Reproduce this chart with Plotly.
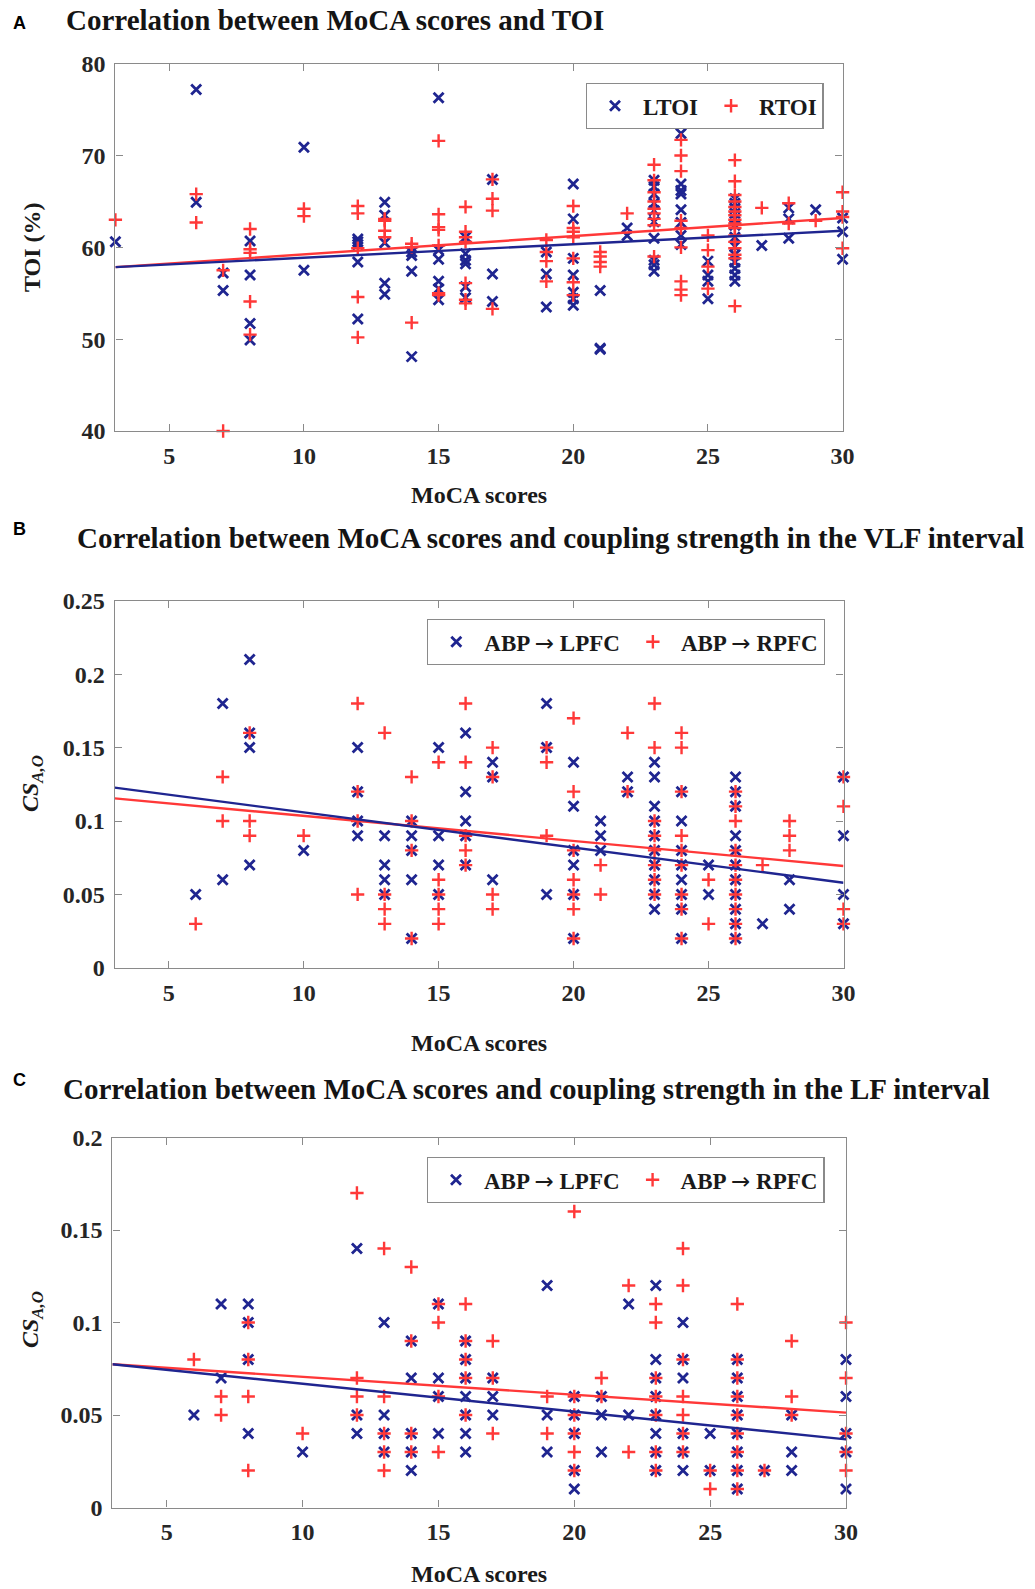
import plotly.graph_objects as go

W, H = 1035, 1589

# ---------------- data ----------------
# x positions of regression lines
line_x = [3, 30]

# Panel A: TOI (%) by MoCA score
A_ltoi = {
    3: [60.6], 6: [77.2, 64.9], 7: [57.2, 55.3], 8: [60.7, 57.0, 51.7, 49.9],
    10: [70.9, 57.5], 12: [60.9, 60.6, 60.3, 58.4, 52.2], 13: [64.9, 63.5, 60.5, 56.1, 54.9],
    14: [59.5, 59.1, 57.4, 48.1], 15: [76.3, 59.7, 58.7, 56.3, 55.5, 54.3],
    16: [61.1, 59.3, 58.6, 58.2, 55.7, 54.5], 17: [67.4, 57.1, 54.1], 19: [59.5, 57.1, 53.5],
    20: [66.9, 63.1, 58.8, 57.0, 55.1, 54.4, 53.7], 21: [55.3, 48.9, 49.0], 22: [62.1, 61.3],
    23: [67.3, 66.6, 65.8, 64.8, 64.0, 62.8, 61.0, 58.6, 58.1, 57.4],
    24: [72.4, 66.9, 66.2, 65.8, 64.1, 62.7, 61.3, 60.3], 25: [58.5, 57.0, 56.3, 54.4],
    26: [65.3, 64.8, 64.2, 63.7, 63.1, 62.4, 61.1, 60.1, 59.2, 58.4, 57.7, 57.0, 56.3],
    27: [60.2], 28: [64.3, 63.1, 61.0], 29: [64.1], 30: [63.2, 61.7, 58.7],
}
A_rtoi = {
    3: [63.0], 6: [65.8, 62.7], 7: [57.5, 40.0], 8: [62.0, 59.8, 59.4, 54.1, 50.5],
    10: [64.2, 63.4], 12: [64.5, 63.7, 59.9, 54.6, 50.2], 13: [63.1, 62.9, 61.8, 61.1],
    14: [60.4, 60.0, 51.8], 15: [71.6, 63.6, 62.2, 61.9, 60.2, 55.0, 54.8],
    16: [64.4, 61.7, 61.1, 60.6, 56.1, 54.3, 53.9], 17: [67.4, 65.3, 64.0, 53.3],
    19: [60.8, 59.5, 58.5, 56.3], 20: [64.5, 62.1, 61.7, 61.1, 58.8, 56.2, 54.8],
    21: [59.5, 59.0, 58.4, 57.9], 22: [63.7],
    23: [69.0, 67.3, 66.0, 65.0, 64.2, 63.7, 63.1, 62.4, 59.0],
    24: [71.7, 70.0, 68.3, 62.9, 62.1, 60.0, 56.3, 55.4, 54.8], 25: [61.3, 59.7, 57.9, 55.5],
    26: [69.5, 67.2, 65.7, 65.0, 64.4, 63.9, 63.5, 63.0, 62.6, 62.1, 61.3, 60.6, 59.9, 59.2, 58.8, 53.6],
    27: [64.3], 28: [64.8, 62.6], 29: [62.9], 30: [66.0, 63.9, 63.3, 59.9],
}
A_fit_l = [57.85, 61.8]
A_fit_r = [57.85, 63.2]

# Panel B: coupling strength, VLF interval
B_lpfc = {
    6: [0.05], 7: [0.18, 0.06], 8: [0.21, 0.16, 0.15, 0.07], 10: [0.08],
    12: [0.15, 0.12, 0.10, 0.09], 13: [0.09, 0.07, 0.06, 0.05], 14: [0.10, 0.09, 0.08, 0.06, 0.02],
    15: [0.15, 0.09, 0.07, 0.05], 16: [0.16, 0.12, 0.10, 0.09, 0.07], 17: [0.14, 0.13, 0.06],
    19: [0.18, 0.15, 0.05], 20: [0.14, 0.11, 0.08, 0.07, 0.05, 0.02], 21: [0.10, 0.09, 0.08],
    22: [0.13, 0.12], 23: [0.14, 0.13, 0.11, 0.10, 0.09, 0.08, 0.07, 0.06, 0.05, 0.04],
    24: [0.12, 0.10, 0.08, 0.07, 0.06, 0.05, 0.04, 0.02], 25: [0.07, 0.05],
    26: [0.13, 0.12, 0.11, 0.09, 0.08, 0.07, 0.06, 0.05, 0.04, 0.03, 0.02],
    27: [0.03], 28: [0.06, 0.04], 30: [0.13, 0.09, 0.05, 0.03],
}
B_rpfc = {
    6: [0.03], 7: [0.13, 0.10], 8: [0.16, 0.10, 0.09], 10: [0.09],
    12: [0.18, 0.12, 0.10, 0.05], 13: [0.16, 0.05, 0.04, 0.03], 14: [0.13, 0.10, 0.08, 0.02],
    15: [0.14, 0.06, 0.05, 0.04, 0.03], 16: [0.18, 0.14, 0.09, 0.08, 0.07], 17: [0.15, 0.13, 0.05, 0.04],
    19: [0.15, 0.14, 0.09], 20: [0.17, 0.12, 0.08, 0.06, 0.05, 0.04, 0.02], 21: [0.07, 0.05],
    22: [0.16, 0.12], 23: [0.18, 0.15, 0.10, 0.09, 0.08, 0.07, 0.06, 0.05],
    24: [0.16, 0.15, 0.12, 0.09, 0.08, 0.07, 0.05, 0.04, 0.02], 25: [0.06, 0.03],
    26: [0.12, 0.11, 0.10, 0.08, 0.07, 0.06, 0.05, 0.04, 0.03, 0.02],
    27: [0.07], 28: [0.10, 0.09, 0.08], 30: [0.13, 0.11, 0.04, 0.03],
}
B_fit_l = [0.1227, 0.0580]
B_fit_r = [0.1154, 0.0694]

# Panel C: coupling strength, LF interval
C_lpfc = {
    6: [0.05], 7: [0.11, 0.07], 8: [0.11, 0.10, 0.08, 0.04], 10: [0.03],
    12: [0.14, 0.05, 0.04], 13: [0.10, 0.05, 0.04, 0.03], 14: [0.09, 0.07, 0.04, 0.03, 0.02],
    15: [0.11, 0.07, 0.06, 0.04], 16: [0.09, 0.08, 0.07, 0.06, 0.05, 0.04, 0.03],
    17: [0.07, 0.06, 0.05], 19: [0.12, 0.05, 0.03], 20: [0.06, 0.05, 0.04, 0.02, 0.01],
    21: [0.06, 0.05, 0.03], 22: [0.11, 0.05], 23: [0.12, 0.08, 0.07, 0.06, 0.05, 0.04, 0.03, 0.02],
    24: [0.10, 0.08, 0.07, 0.04, 0.03, 0.02], 25: [0.04, 0.02],
    26: [0.08, 0.07, 0.06, 0.05, 0.04, 0.03, 0.02, 0.01], 27: [0.02], 28: [0.05, 0.03, 0.02],
    30: [0.08, 0.06, 0.04, 0.03, 0.01],
}
C_rpfc = {
    6: [0.08], 7: [0.06, 0.05], 8: [0.10, 0.08, 0.06, 0.02], 10: [0.04],
    12: [0.17, 0.07, 0.06, 0.05], 13: [0.14, 0.06, 0.04, 0.03, 0.02], 14: [0.13, 0.09, 0.04, 0.03],
    15: [0.11, 0.10, 0.06, 0.03], 16: [0.11, 0.09, 0.08, 0.07, 0.05], 17: [0.09, 0.07, 0.04],
    19: [0.06, 0.04], 20: [0.16, 0.06, 0.05, 0.04, 0.03, 0.02], 21: [0.07, 0.06],
    22: [0.12, 0.03], 23: [0.11, 0.10, 0.07, 0.06, 0.05, 0.03, 0.02],
    24: [0.14, 0.12, 0.08, 0.06, 0.05, 0.04, 0.03], 25: [0.02, 0.01],
    26: [0.11, 0.08, 0.07, 0.06, 0.05, 0.04, 0.03, 0.02, 0.01], 27: [0.02], 28: [0.09, 0.06, 0.05],
    30: [0.10, 0.07, 0.04, 0.03, 0.02],
}
C_fit_l = [0.0774, 0.0368]
C_fit_r = [0.0774, 0.0513]

x_ticks = [5, 10, 15, 20, 25, 30]
A_yticks = [40, 50, 60, 70, 80]
B_yticks = [0, 0.05, 0.1, 0.15, 0.2, 0.25]
B_yticklabels = ["0", "0.05", "0.1", "0.15", "0.2", "0.25"]
C_yticks = [0, 0.05, 0.1, 0.15, 0.2]
C_yticklabels = ["0", "0.05", "0.1", "0.15", "0.2"]

titles = [
    "Correlation between MoCA scores and TOI",
    "Correlation between MoCA scores and coupling strength in the VLF interval",
    "Correlation between MoCA scores and coupling strength in the LF interval",
]
panel_letters = ["A", "B", "C"]
ARROW = '<span style="font-family:\'DejaVu Sans\';font-weight:normal">\u2192</span>'
legend_names = [
    ("LTOI", "RTOI"),
    ("ABP " + ARROW + " LPFC", "ABP " + ARROW + " RPFC"),
    ("ABP " + ARROW + " LPFC", "ABP " + ARROW + " RPFC"),
]
y_titles = ["TOI (%)", "<i>CS<sub>A,O</sub></i>", "<i>CS<sub>A,O</sub></i>"]

# ---------------- styling ----------------
BLUE = "#1f2590"
RED = "#ff3838"
AXC = "#8a8a8a"
SERIF = "Liberation Serif"
SANS = "Liberation Sans"


def expand(d):
    xs, ys = [], []
    for k, vs in d.items():
        for v in vs:
            xs.append(k)
            ys.append(v)
    return xs, ys


def px_x(p):
    return p / W


def px_y(p):
    return 1 - p / H


panels = [
    dict(blue=A_ltoi, red=A_rtoi, fl=A_fit_l, fr=A_fit_r, xpix=(115.4, 842.6), ypix=(63.7, 431.0),
         yr=[40, 80], yt=A_yticks, ytl=[str(v) for v in A_yticks],
         title_x=64, title_y=20, letter_y=23, xt_y=495, yt_y=247,
         leg=(585.7, 83)),
    dict(blue=B_lpfc, red=B_rpfc, fl=B_fit_l, fr=B_fit_r, xpix=(114.7, 843.5), ypix=(600.7, 967.9),
         yr=[0, 0.25], yt=B_yticks, ytl=B_yticklabels,
         title_x=75, title_y=538, letter_y=529.5, xt_y=1043, yt_y=784,
         leg=(427, 619)),
    dict(blue=C_lpfc, red=C_rpfc, fl=C_fit_l, fr=C_fit_r, xpix=(112.4, 846.0), ypix=(1137.5, 1507.5),
         yr=[0, 0.2], yt=C_yticks, ytl=C_yticklabels,
         title_x=61, title_y=1089, letter_y=1079.5, xt_y=1574, yt_y=1320,
         leg=(426.7, 1157)),
]

fig = go.Figure()
annotations = []
layout = {}

for i, p in enumerate(panels):
    n = "" if i == 0 else str(i + 1)
    xa, ya = "x" + n, "y" + n
    leg = "legend" + n
    bx, by = expand(p["blue"])
    rx, ry = expand(p["red"])
    fig.add_trace(go.Scatter(x=bx, y=by, mode="markers", name=legend_names[i][0],
                             marker=dict(symbol="x-thin", size=10, color=BLUE,
                                         line=dict(color=BLUE, width=2.8)),
                             cliponaxis=False, xaxis=xa, yaxis=ya, legend=leg))
    fig.add_trace(go.Scatter(x=rx, y=ry, mode="markers", name=legend_names[i][1],
                             marker=dict(symbol="cross-thin", size=9.5, color=RED,
                                         line=dict(color=RED, width=2.4)),
                             cliponaxis=False, xaxis=xa, yaxis=ya, legend=leg))
    fig.add_trace(go.Scatter(x=line_x, y=p["fr"], mode="lines", line=dict(color=RED, width=2.4),
                             showlegend=False, xaxis=xa, yaxis=ya))
    fig.add_trace(go.Scatter(x=line_x, y=p["fl"], mode="lines", line=dict(color=BLUE, width=2.4),
                             showlegend=False, xaxis=xa, yaxis=ya))

    common = dict(showline=True, linecolor=AXC, linewidth=1.3, mirror="ticks", ticks="inside",
                  ticklen=7, tickwidth=1.2, tickcolor=AXC, showgrid=False, zeroline=False,
                  automargin=False,
                  tickfont=dict(family=SERIF, size=24, color="#262626", weight="bold"))
    layout["xaxis" + n] = dict(domain=[px_x(p["xpix"][0]), px_x(p["xpix"][1])], range=[3, 30],
                               tickvals=x_ticks, anchor=ya, ticklabelstandoff=3, **common)
    layout["yaxis" + n] = dict(domain=[px_y(p["ypix"][1]), px_y(p["ypix"][0])], range=p["yr"],
                               tickvals=p["yt"], ticktext=p["ytl"], anchor=xa,
                               ticklabelstandoff=4, **common)
    layout[leg] = dict(x=px_x(p["leg"][0]), y=px_y(p["leg"][1]), xanchor="left", yanchor="top",
                       orientation="h", bordercolor=AXC, borderwidth=1.3, bgcolor="white",
                       font=dict(family=SERIF, size=23, color="#1a1a1a", weight="bold"),
                       itemwidth=46)

    cx = (p["xpix"][0] + p["xpix"][1]) / 2
    annotations += [
        dict(text=panel_letters[i], x=px_x(19), y=px_y(p["letter_y"]), xref="paper", yref="paper",
             showarrow=False, xanchor="center", yanchor="middle",
             font=dict(family=SANS, size=18, color="black", weight="bold")),
        dict(text=titles[i], x=px_x(p["title_x"]), y=px_y(p["title_y"]), xref="paper", yref="paper",
             showarrow=False, xanchor="left", yanchor="middle",
             font=dict(family=SERIF, size=29, color="#141414", weight="bold")),
        dict(text="MoCA scores", x=px_x(cx), y=px_y(p["xt_y"]), xref="paper", yref="paper",
             showarrow=False, xanchor="center", yanchor="middle",
             font=dict(family=SERIF, size=24, color="#1a1a1a", weight="bold")),
        dict(text=y_titles[i], x=px_x(32), y=px_y(p["yt_y"]), xref="paper", yref="paper",
             showarrow=False, xanchor="center", yanchor="middle", textangle=-90,
             font=dict(family=SERIF, size=24, color="#1a1a1a", weight="bold")),
    ]

fig.update_layout(width=W, height=H,
                  margin=dict(l=0, r=0, t=0, b=0, pad=0, autoexpand=False),
                  paper_bgcolor="white", plot_bgcolor="white",
                  annotations=annotations, **layout)

fig.write_html("out.html")
